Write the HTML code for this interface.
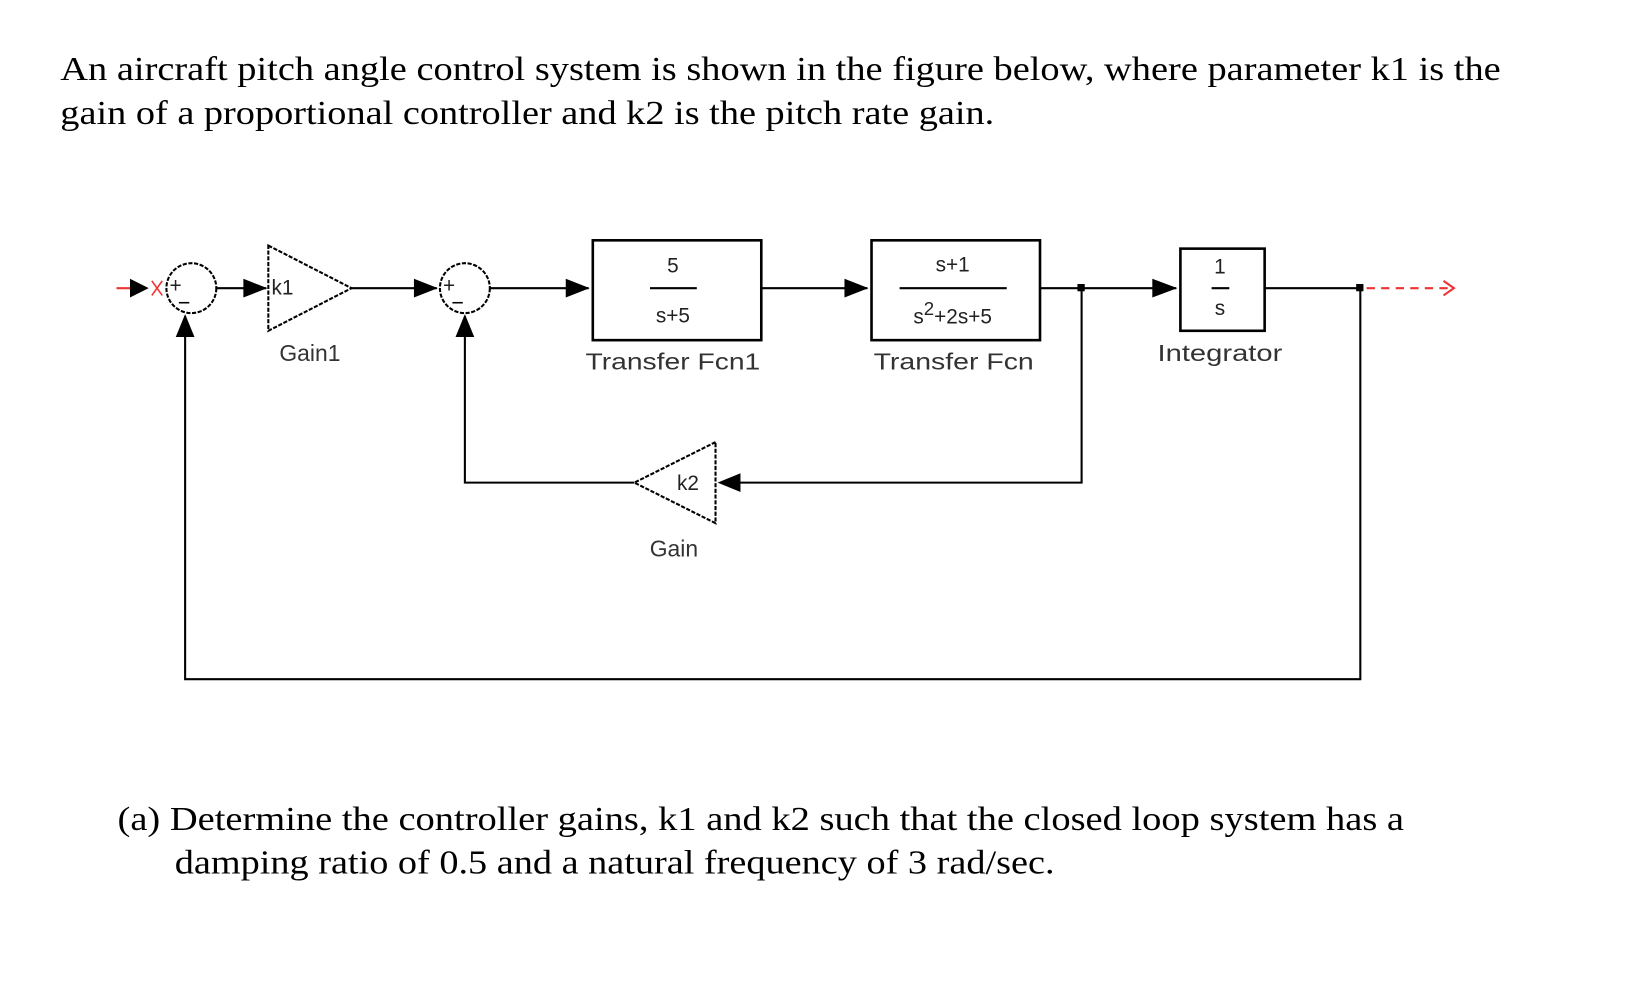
<!DOCTYPE html>
<html><head><meta charset="utf-8"><style>
html,body{margin:0;padding:0;background:#fff;}
svg{display:block;}
.t{font-family:"Liberation Serif",serif;font-size:33px;fill:#000;}
.s{font-family:"Liberation Sans",sans-serif;font-size:22px;fill:#333;}
.m{font-family:"Liberation Sans",sans-serif;font-size:20px;fill:#222;}
</style></head><body>
<svg width="1630" height="984" viewBox="0 0 1567.3 946" xmlns="http://www.w3.org/2000/svg">
<text class="t" x="58" y="77" textLength="1385" lengthAdjust="spacingAndGlyphs">An aircraft pitch angle control system is shown in the figure below, where parameter k1 is the</text>
<text class="t" x="58" y="119" textLength="898" lengthAdjust="spacingAndGlyphs">gain of a proportional controller and k2 is the pitch rate gain.</text>

<g stroke="#000" stroke-width="2" fill="none">
<line x1="112" y1="277" x2="140" y2="277" stroke="#e33"/>
<path d="M125,268 L143,277 L125,286z" fill="#000" stroke="none"/>
<line x1="146" y1="270" x2="156" y2="284" stroke="#e33" stroke-width="1.5"/>
<line x1="146" y1="284" x2="156" y2="270" stroke="#e33" stroke-width="1.5"/>
<circle cx="184" cy="277" r="24" stroke-dasharray="4,1.5"/>
<line x1="208" y1="277" x2="256" y2="277"/>
<path d="M234,268 L257,277 L234,286z" fill="#000" stroke="none"/>
<path d="M258,236 L338,277 L258,318z" stroke-dasharray="4,1.5"/>
<line x1="338" y1="277" x2="420" y2="277"/>
<path d="M398,268 L421,277 L398,286z" fill="#000" stroke="none"/>
<circle cx="447" cy="277" r="24" stroke-dasharray="4,1.5"/>
<line x1="471" y1="277" x2="566" y2="277"/>
<path d="M544,268 L567,277 L544,286z" fill="#000" stroke="none"/>
<rect x="570" y="231" width="162" height="96" stroke-width="2.5"/>
<line x1="625" y1="277" x2="670" y2="277"/>
<line x1="732" y1="277" x2="834" y2="277"/>
<path d="M812,268 L835,277 L812,286z" fill="#000" stroke="none"/>
<rect x="838" y="231" width="162" height="96" stroke-width="2.5"/>
<line x1="865" y1="277" x2="968" y2="277"/>
<line x1="1000" y1="277" x2="1131" y2="277"/>
<path d="M1108,268 L1132,277 L1108,286z" fill="#000" stroke="none"/>
<rect x="1135" y="239" width="81" height="79" stroke-width="2.5"/>
<line x1="1165" y1="277" x2="1182" y2="277"/>
<line x1="1216" y1="277" x2="1308" y2="277"/>
<line x1="1314" y1="277" x2="1392" y2="277" stroke="#e33" stroke-dasharray="8,6"/>
<path d="M1388,270 L1398,277 L1388,284" stroke="#e33"/>
<path d="M1308,277 L1308,653 L178,653 L178,304"/>
<path d="M169,324 L178,302 L187,324z" fill="#000" stroke="none"/>
<path d="M1040,277 L1040,464 L694,464"/>
<path d="M712,455 L690,464 L712,473z" fill="#000" stroke="none"/>
<path d="M688,425 L610,464 L688,503z" stroke-dasharray="4,1.5"/>
<path d="M610,464 L447,464 L447,304"/>
<path d="M438,324 L447,302 L456,324z" fill="#000" stroke="none"/>
<rect x="1037" y="274" width="5" height="5" fill="#000"/>
<rect x="1305" y="274" width="5" height="5" fill="#000"/>
<line x1="172" y1="291" x2="182" y2="291" stroke-width="1.5"/>
<line x1="435" y1="291" x2="445" y2="291" stroke-width="1.5"/>
</g>
<text class="m" x="163" y="281" font-size="17">+</text>
<text class="m" x="426" y="281" font-size="17">+</text>
<text class="m" x="261" y="283">k1</text>
<text class="m" x="651" y="471">k2</text>
<text class="m" x="647" y="262" text-anchor="middle">5</text>
<text class="m" x="647" y="310" text-anchor="middle">s+5</text>
<text class="m" x="916" y="261" text-anchor="middle">s+1</text>
<text class="m" x="916" y="311" text-anchor="middle">s<tspan dy="-8" font-size="18">2</tspan><tspan dy="8">+2s+5</tspan></text>
<text class="m" x="1173" y="263" text-anchor="middle">1</text>
<text class="m" x="1173" y="303" text-anchor="middle" font-size="17">s</text>
<text class="s" x="298" y="347" text-anchor="middle">Gain1</text>
<text class="s" x="647" y="355" text-anchor="middle" textLength="168" lengthAdjust="spacingAndGlyphs">Transfer Fcn1</text>
<text class="s" x="917" y="355" text-anchor="middle" textLength="154" lengthAdjust="spacingAndGlyphs">Transfer Fcn</text>
<text class="s" x="1173" y="347" text-anchor="middle" textLength="120" lengthAdjust="spacingAndGlyphs">Integrator</text>
<text class="s" x="648" y="535" text-anchor="middle">Gain</text>

<text class="t" x="113" y="798" textLength="1237" lengthAdjust="spacingAndGlyphs">(a) Determine the controller gains, k1 and k2 such that the closed loop system has a</text>
<text class="t" x="168" y="840" textLength="846" lengthAdjust="spacingAndGlyphs">damping ratio of 0.5 and a natural frequency of 3 rad/sec.</text>
</svg>
</body></html>
